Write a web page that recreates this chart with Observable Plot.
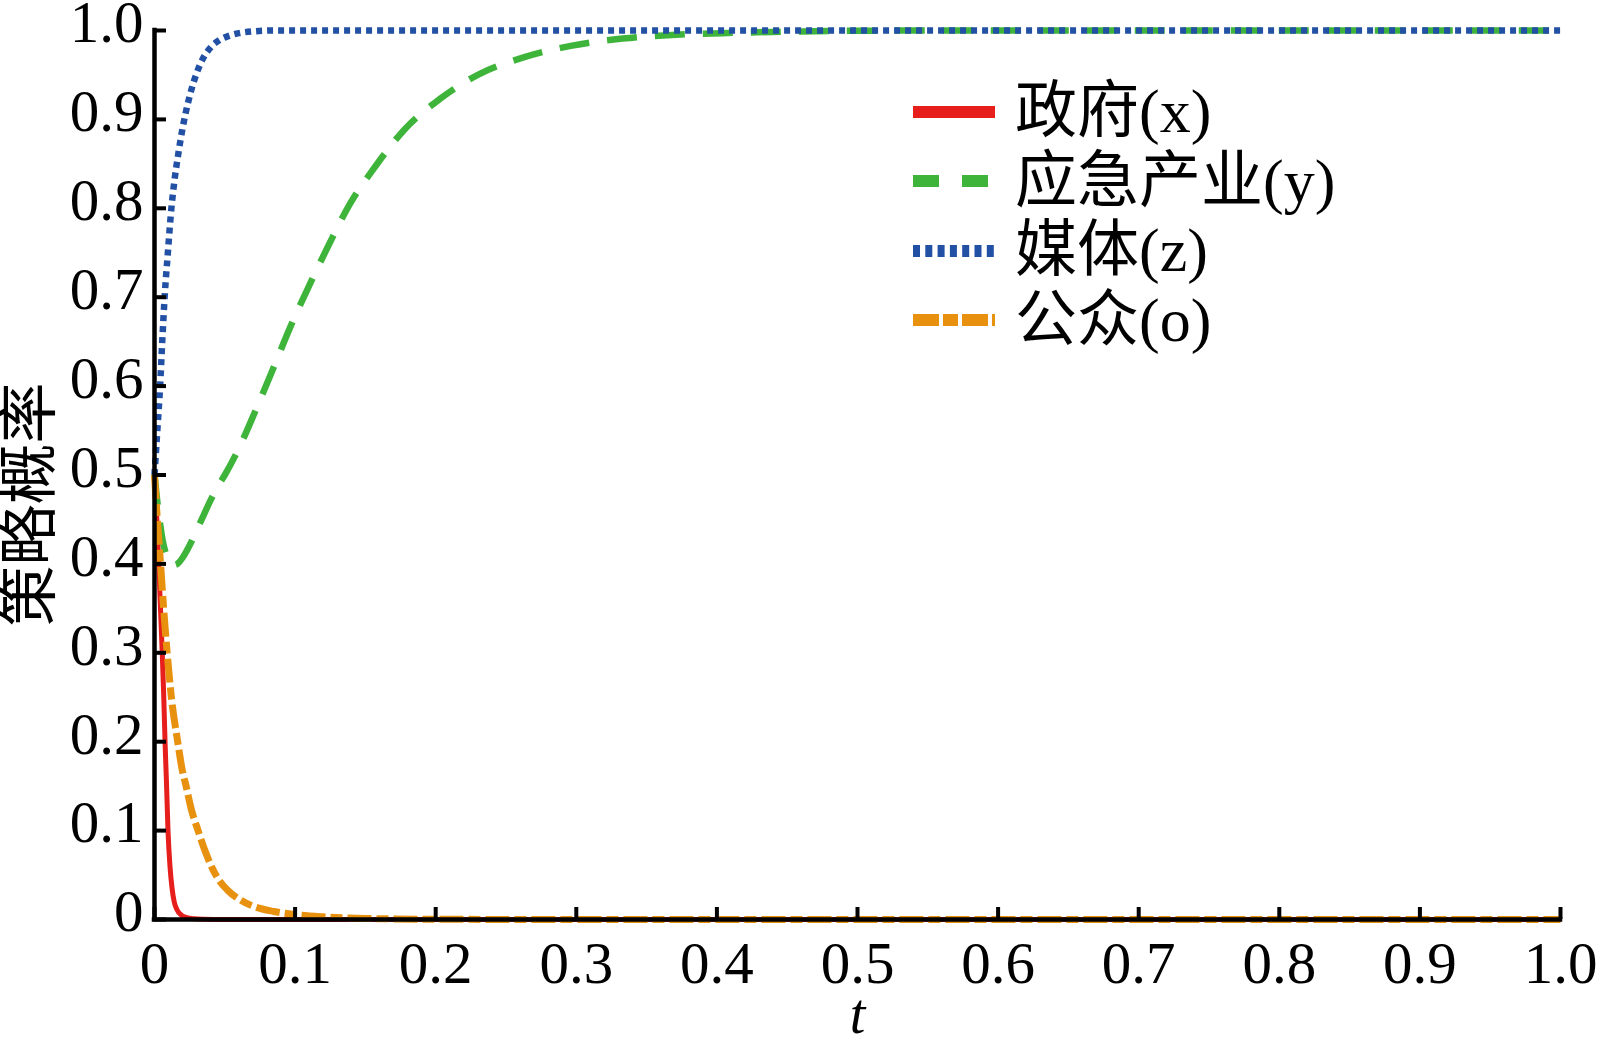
<!DOCTYPE html>
<html><head><meta charset="utf-8">
<script src="https://cdn.jsdelivr.net/npm/d3@7"></script>
<script src="https://cdn.jsdelivr.net/npm/@observablehq/plot@0.6"></script>
<style>
body{margin:0;background:#fff;}
#wrap{position:relative;width:1597px;height:1052px;overflow:hidden;}
#legend{position:absolute;left:913px;top:77px;font-family:"Liberation Serif","Noto Sans CJK SC",serif;font-size:62px;color:#000;}
.row{display:flex;align-items:center;height:69.5px;line-height:69.5px;white-space:nowrap;}
.row svg{width:82px;height:20px;margin-right:20px;flex:none;}
</style></head><body><div id="wrap"><div id="legend"></div></div>
<script>
// ---- data ----
const names = ["政府(x)", "应急产业(y)", "媒体(z)", "公众(o)"];
const xTicks = [0, 0.1, 0.2, 0.3, 0.4, 0.5, 0.6, 0.7, 0.8, 0.9, 1.0];
const yTicks = [0, 0.1, 0.2, 0.3, 0.4, 0.5, 0.6, 0.7, 0.8, 0.9, 1.0];
const xLabel = "t";
const yLabel = "策略概率";

const tRed = [0, 0.001, 0.002, 0.003, 0.004, 0.0055, 0.0065, 0.0075, 0.0085, 0.0096, 0.011, 0.0125, 0.014, 0.016, 0.019, 0.023, 0.028, 0.035, 0.05, 0.1, 0.3, 0.6, 1.0];
const vRed = [0.5, 0.47, 0.44, 0.40, 0.36, 0.30, 0.255, 0.20, 0.155, 0.10, 0.06, 0.035, 0.02, 0.011, 0.005, 0.002, 0.0008, 0.0003, 0, 0, 0, 0, 0];

const tGreen = [0, 0.002, 0.004, 0.006, 0.008, 0.01, 0.012, 0.0145, 0.017, 0.02, 0.025, 0.03, 0.035, 0.04, 0.045, 0.05, 0.06, 0.072, 0.085, 0.097, 0.11, 0.124, 0.139, 0.157, 0.178, 0.203, 0.231, 0.263, 0.297, 0.333, 0.368, 0.404, 0.46, 0.55, 1.0];
const vGreen = [0.5, 0.47, 0.445, 0.425, 0.412, 0.404, 0.400, 0.399, 0.401, 0.407, 0.421, 0.438, 0.455, 0.472, 0.487, 0.500, 0.530, 0.573, 0.622, 0.668, 0.713, 0.759, 0.805, 0.847, 0.889, 0.923, 0.951, 0.970, 0.983, 0.991, 0.995, 0.997, 0.999, 1.0, 1.0];

const tBlue = [0, 0.002, 0.004, 0.0055, 0.0072, 0.0095, 0.012, 0.0145, 0.017, 0.0195, 0.022, 0.026, 0.03, 0.035, 0.04, 0.046, 0.053, 0.06, 0.07, 0.085, 0.1, 1.0];
const vBlue = [0.5, 0.55, 0.6, 0.65, 0.7, 0.75, 0.8, 0.835, 0.862, 0.886, 0.906, 0.932, 0.952, 0.970, 0.981, 0.989, 0.994, 0.997, 0.999, 1.0, 1.0, 1.0];

const tOrange = [0, 0.002, 0.0043, 0.0065, 0.009, 0.012, 0.0165, 0.0195, 0.0225, 0.026, 0.031, 0.036, 0.041, 0.046, 0.052, 0.06, 0.07, 0.085, 0.1, 0.12, 0.15, 0.2, 0.3, 0.5, 1.0];
const vOrange = [0.5, 0.45, 0.40, 0.35, 0.30, 0.25, 0.20, 0.17, 0.15, 0.125, 0.10, 0.077, 0.058, 0.044, 0.033, 0.023, 0.015, 0.009, 0.0055, 0.003, 0.0012, 0.0003, 0, 0, 0];

// ---- styles ----
const colors = ["#e61e1c", "#3fb43a", "#2150a4", "#e8910f"];
const dashes = [null, "30,18", "6,5", "24,5,12,5"];
const widths = [5, 6.5, 6.5, 7];
const legendDashes = [null, "26,23", "7,5.3", "26,4,15,4"];

const series = [[tRed, vRed], [tGreen, vGreen], [tBlue, vBlue], [tOrange, vOrange]]
  .map(([ts, vs]) => ts.map((t, i) => ({t, v: vs[i]})));

const fmt = d => d === 0 ? "0" : d.toFixed(1);
const order = [0, 1, 3, 2];

const chart = Plot.plot({
  width: 1597,
  height: 1052,
  marginLeft: 154,
  marginRight: 37,
  marginTop: 30,
  marginBottom: 133,
  style: {fontFamily: "Liberation Serif", background: "white", overflow: "visible", color: "black"},
  x: {domain: [0, 1]},
  y: {domain: [0, 1]},
  marks: [
    ...order.map(i => Plot.line(series[i], {
      x: "t", y: "v", stroke: colors[i], strokeWidth: widths[i],
      strokeDasharray: dashes[i], curve: "monotone-x", strokeLinecap: "butt"
    })),
    Plot.ruleX([0], {strokeWidth: 4.5, strokeLinecap: "square"}),
    Plot.ruleY([0], {strokeWidth: 4.5, strokeLinecap: "square"}),
    Plot.axisY({ticks: yTicks, tickFormat: fmt, tickSize: 0, tickPadding: 11, dy: -7, fontSize: 59, label: null}),
    Plot.axisY({ticks: yTicks, tickSize: 12, dx: 12, fill: "none", strokeWidth: 4, label: null}),
    Plot.axisX({ticks: xTicks, tickFormat: fmt, tickSize: 0, tickPadding: 22, fontSize: 59, label: null}),
    Plot.axisX({ticks: xTicks, tickSize: 12, dy: -12, fill: "none", strokeWidth: 4, label: null}),
    Plot.text([yLabel], {frameAnchor: "left", textAnchor: "middle", lineAnchor: "middle", rotate: -90, dx: -124, dy: 29.5, fontSize: 61, fontFamily: "Noto Sans CJK SC"}),
    Plot.text([xLabel], {frameAnchor: "bottom", dy: 113, fontSize: 56, fontStyle: "italic", fontFamily: "Liberation Serif"})
  ]
});
document.getElementById("wrap").prepend(chart);

// legend
const legend = d3.select("#legend");
names.forEach((name, i) => {
  const row = legend.append("div").attr("class", "row");
  const s = row.append("svg").attr("viewBox", "0 0 82 20");
  s.append("line").attr("x1", 0).attr("x2", 82).attr("y1", 10).attr("y2", 10)
    .attr("stroke", colors[i]).attr("stroke-width", 12)
    .attr("stroke-dasharray", legendDashes[i]);
  row.append("span").text(name);
});
</script></body></html>
